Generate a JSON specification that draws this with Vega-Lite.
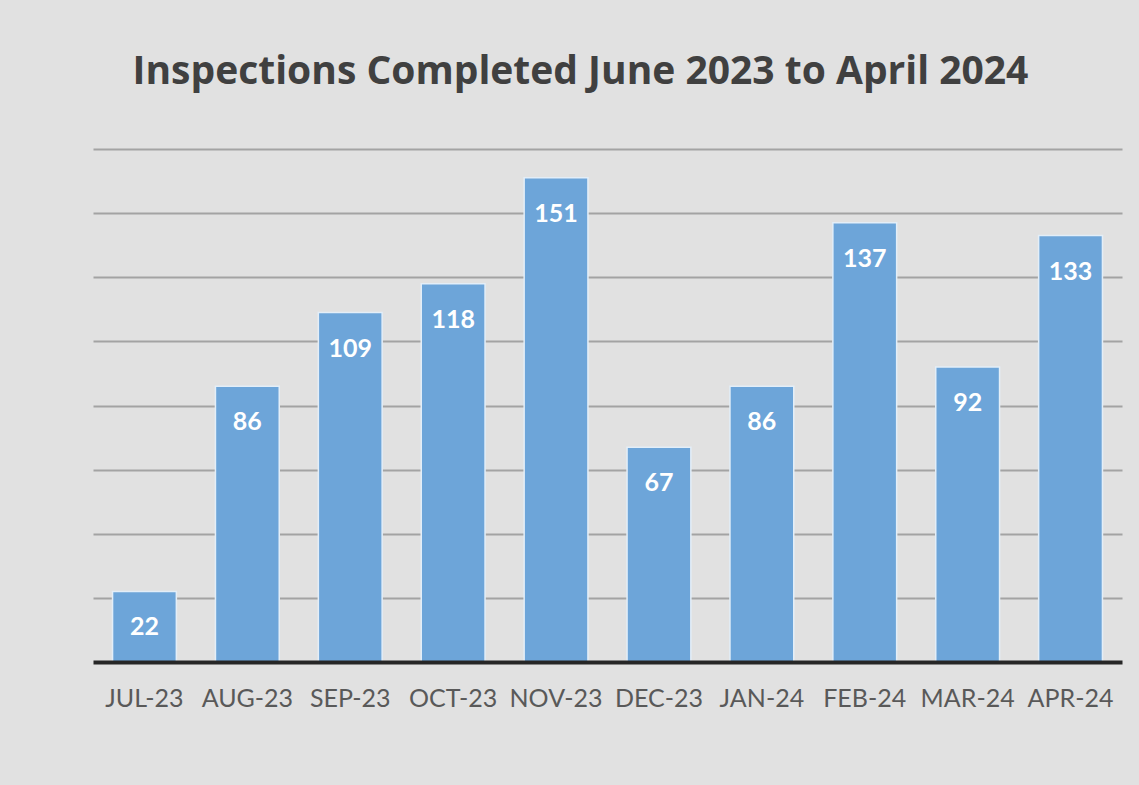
{
  "$schema": "https://vega.github.io/schema/vega-lite/v6.json",
  "width": 1029,
  "height": 513,
  "autosize": {"type": "none"},
  "padding": {"left": 93, "top": 149, "right": 17, "bottom": 123},
  "background": "#e1e1e1",
  "title": {
    "text": "Inspections Completed June 2023 to April 2024",
    "font": "Open Sans",
    "fontSize": 39,
    "fontWeight": "bold",
    "color": "#404040",
    "anchor": "middle",
    "dx": -27,
    "offset": 57
  },
  "config": {"view": {"stroke": null}},
  "data": {
    "values": [
      {"month": "JUL-23", "count": 22},
      {"month": "AUG-23", "count": 86},
      {"month": "SEP-23", "count": 109},
      {"month": "OCT-23", "count": 118},
      {"month": "NOV-23", "count": 151},
      {"month": "DEC-23", "count": 67},
      {"month": "JAN-24", "count": 86},
      {"month": "FEB-24", "count": 137},
      {"month": "MAR-24", "count": 92},
      {"month": "APR-24", "count": 133}
    ]
  },
  "encoding": {
    "x": {
      "field": "month",
      "type": "nominal",
      "sort": null,
      "scale": {"paddingInner": 0.38, "paddingOuter": 0.19},
      "axis": {
        "title": null,
        "labelAngle": 0,
        "labelFont": "Lato",
        "labelFontSize": 25,
        "labelColor": "#595959",
        "labelPadding": 24,
        "ticks": false,
        "domainColor": "#262626",
        "domainWidth": 4,
        "zindex": 1
      }
    },
    "y": {
      "field": "count",
      "type": "quantitative",
      "scale": {"domain": [0, 160], "nice": false},
      "axis": {
        "title": null,
        "labels": false,
        "ticks": false,
        "domain": false,
        "values": [20, 40, 60, 80, 100, 120, 140, 160],
        "gridColor": "#a3a3a3",
        "gridWidth": 2
      }
    }
  },
  "layer": [
    {
      "mark": {"type": "bar", "color": "#6da5d9", "stroke": "#e3eef8", "strokeWidth": 1.5, "opacity": 1}
    },
    {
      "mark": {"type": "text", "color": "#ffffff", "font": "Lato", "fontWeight": "bold", "fontSize": 25, "baseline": "middle", "dy": 36},
      "encoding": {"text": {"field": "count", "type": "quantitative"}}
    }
  ]
}
